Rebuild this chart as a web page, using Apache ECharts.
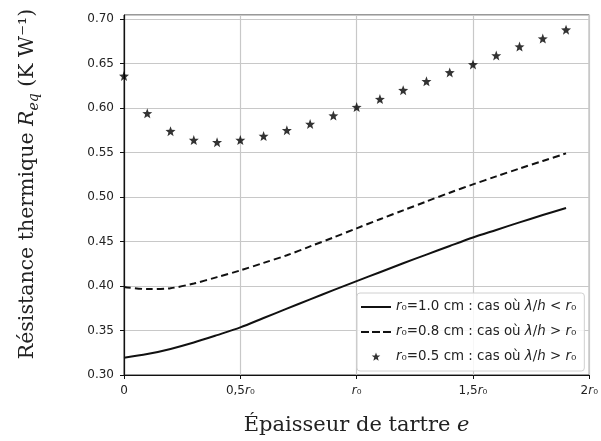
<!DOCTYPE html>
<html lang="fr">
<head>
    <meta charset="UTF-8">
    <title>Résistance thermique</title>
    <script src="https://cdn.jsdelivr.net/npm/echarts@6.0.0/dist/echarts.min.js"></script>
    <style>
        * { margin: 0; padding: 0; box-sizing: border-box; }
        html, body { width: 100%; height: 100%; background: #fff; overflow: hidden; }
        #chart { width: 601px; height: 441px; }
    </style>
</head>
<body>
    <div id="chart"></div>
    <script>
        // épaisseur e, en unités de r0
        const epaisseur = [0, 0.1, 0.2, 0.3, 0.4, 0.5, 0.6, 0.7, 0.8, 0.9,
                           1.0, 1.1, 1.2, 1.3, 1.4, 1.5, 1.6, 1.7, 1.8, 1.9];
        // r0 = 1.0 cm (trait plein)
        const req10 = [0.3195, 0.3235, 0.3293, 0.3365, 0.3448, 0.3535, 0.3640, 0.3745, 0.3850, 0.3953,
                       0.4055, 0.4155, 0.4255, 0.4353, 0.4450, 0.4545, 0.4630, 0.4715, 0.4797, 0.4877];
        // r0 = 0.8 cm (tirets)
        const req08 = [0.3990, 0.3965, 0.3975, 0.4028, 0.4100, 0.4175, 0.4260, 0.4345, 0.4445, 0.4545,
                       0.4648, 0.4750, 0.4850, 0.4950, 0.5048, 0.5142, 0.5232, 0.5320, 0.5405, 0.5490];
        // r0 = 0.5 cm (étoiles)
        const req05 = [0.636, 0.594, 0.574, 0.564, 0.5615, 0.564, 0.5685, 0.575, 0.582, 0.5915,
                       0.601, 0.610, 0.620, 0.630, 0.640, 0.649, 0.659, 0.669, 0.678, 0.688];

        const xTicks = [0, 0.5, 1, 1.5, 2];
        const xTickLabels = ['{n|0}', '{n|0,5}{i|r}{n|₀}', '{i|r}{n|₀}', '{n|1,5}{i|r}{n|₀}', '{n|2}{i|r}{n|₀}'];

        const names = ['r0=1.0 cm', 'r0=0.8 cm', 'r0=0.5 cm'];
        const legendTexts = {
            'r0=1.0 cm': '{i|r}₀=1.0 cm : cas où {i|λ}/{i|h} < {i|r}₀',
            'r0=0.8 cm': '{i|r}₀=0.8 cm : cas où {i|λ}/{i|h} > {i|r}₀',
            'r0=0.5 cm': '{i|r}₀=0.5 cm : cas où {i|λ}/{i|h} > {i|r}₀'
        };

        const pairs = ys => epaisseur.map((e, i) => [e, ys[i]]);

        // étoile à 5 branches ; pad > 1 ajoute une marge invisible (icône de légende plus petite)
        function starPath(pad) {
            let d = '';
            for (let k = 0; k < 10; k++) {
                const r = k % 2 === 0 ? 1 : 0.42;
                const a = -Math.PI / 2 + k * Math.PI / 5;
                d += (k === 0 ? 'M' : 'L') + (r * Math.cos(a)).toFixed(3) + ' ' + (r * Math.sin(a)).toFixed(3);
            }
            d += 'Z';
            if (pad) d = 'M' + (-pad) + ' ' + (-pad) + 'M' + pad + ' ' + pad + d;
            return 'path://' + d;
        }
        const star = starPath(0);
        const starLegend = starPath(1.55);
        // icônes de légende pour les courbes (boîte 30 x 14, trait de 2 px au milieu)
        const lineIcon = 'path://M0 -6M30 8M0 0H30V2H0Z';
        const dashIcon = 'path://M0 -6M30 8M0 0H8V2H0ZM11 0H19V2H11ZM22 0H30V2H22Z';

        const sans = 'DejaVu Sans';
        const serif = 'DejaVu Serif';

        const chart = echarts.init(document.getElementById('chart'), null, { renderer: 'canvas' });
        chart.setOption({
            animation: false,
            backgroundColor: '#fff',
            grid: {
                left: 124, right: 8, top: 15, bottom: 62,
                show: true, borderColor: '#333', borderWidth: 1
            },
            legend: {
                orient: 'vertical',
                left: 357, top: 293,
                padding: [7, 8, 7, 4],
                itemWidth: 30, itemHeight: 14, itemGap: 11,
                backgroundColor: 'rgba(255,255,255,0.85)',
                borderColor: '#d0d0d0', borderWidth: 1, borderRadius: 3,
                data: [
                    { name: names[0], icon: lineIcon, itemStyle: { color: '#111' } },
                    { name: names[1], icon: dashIcon, itemStyle: { color: '#111' } },
                    { name: names[2], icon: starLegend }
                ],
                formatter: name => legendTexts[name],
                textStyle: {
                    fontFamily: sans, fontSize: 13.4, color: '#222',
                    rich: {
                        i: { fontFamily: sans, fontSize: 13.4, fontStyle: 'italic', color: '#222' }
                    }
                }
            },
            xAxis: {
                type: 'value',
                min: 0, max: 2, interval: 0.5,
                name: '{t|Épaisseur de tartre }{i|e}',
                nameLocation: 'middle',
                nameGap: 40,
                nameTextStyle: {
                    rich: {
                        t: { fontFamily: serif, fontSize: 21, color: '#222' },
                        i: { fontFamily: serif, fontSize: 21, fontStyle: 'italic', color: '#222' }
                    }
                },
                axisLine: { lineStyle: { color: '#111', width: 1.2 } },
                axisTick: { show: true, inside: false, length: 4, lineStyle: { color: '#111' } },
                axisLabel: {
                    margin: 10,
                    formatter: v => xTickLabels[xTicks.indexOf(v)] || '',
                    rich: {
                        n: { fontFamily: sans, fontSize: 12, color: '#222' },
                        i: { fontFamily: sans, fontSize: 12, fontStyle: 'italic', color: '#222' }
                    }
                },
                splitLine: { show: true, lineStyle: { color: '#c8c8c8', width: 1.2 } }
            },
            yAxis: {
                type: 'value',
                min: 0.30, max: 0.7045, interval: 0.05,
                name: '{t|Résistance thermique }{i|R}{s|eq}{t| (K W⁻¹)}',
                nameLocation: 'middle',
                nameGap: 83,
                nameTextStyle: {
                    padding: [0, 0, 0, 22],
                    rich: {
                        t: { fontFamily: serif, fontSize: 20.5, lineHeight: 26, color: '#222' },
                        i: { fontFamily: serif, fontSize: 20.5, lineHeight: 26, fontStyle: 'italic', color: '#222' },
                        s: { fontFamily: serif, fontSize: 14, lineHeight: 14, fontStyle: 'italic', verticalAlign: 'bottom', color: '#222' }
                    }
                },
                axisLine: { show: true, lineStyle: { color: '#111', width: 1.2 } },
                axisTick: { show: true, inside: false, length: 4, lineStyle: { color: '#111' } },
                axisLabel: {
                    margin: 10,
                    showMaxLabel: false,
                    fontFamily: sans, fontSize: 12, color: '#222',
                    formatter: v => v.toFixed(2)
                },
                splitLine: { show: true, lineStyle: { color: '#c8c8c8', width: 1.2 } }
            },
            series: [
                {
                    name: names[0], type: 'line', data: pairs(req10),
                    symbol: 'none', smooth: 0.3,
                    lineStyle: { color: '#111', width: 2, type: 'solid' },
                    itemStyle: { color: '#111' }
                },
                {
                    name: names[1], type: 'line', data: pairs(req08),
                    symbol: 'none', smooth: 0.3,
                    lineStyle: { color: '#111', width: 2, type: [7, 4] },
                    itemStyle: { color: '#111' }
                },
                {
                    name: names[2], type: 'scatter', data: pairs(req05),
                    symbol: star, symbolSize: 10,
                    itemStyle: { color: '#000' }
                }
            ]
        });
    </script>
</body>
</html>
